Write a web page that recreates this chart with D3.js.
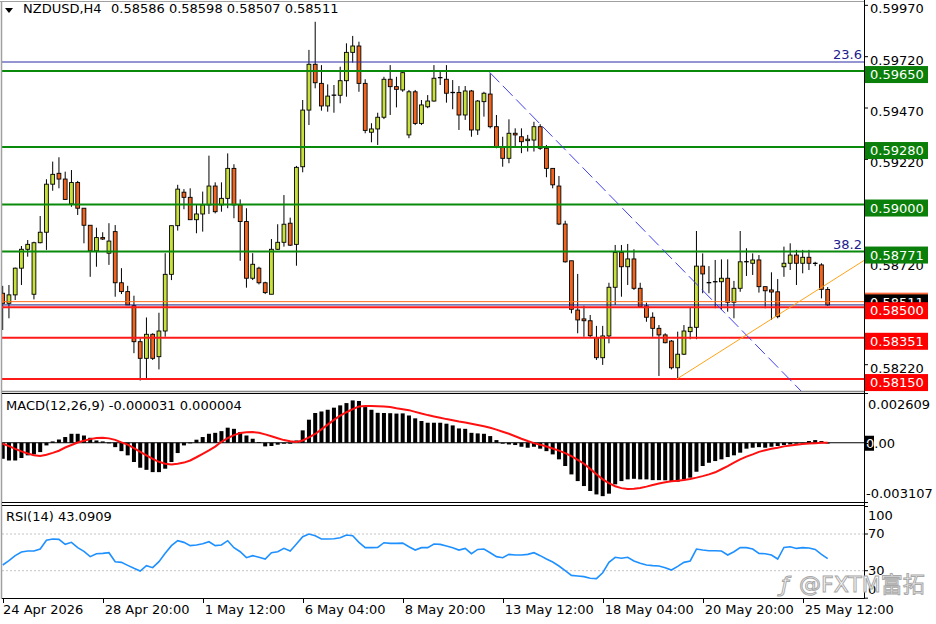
<!DOCTYPE html>
<html><head><meta charset="utf-8">
<script src="https://cdn.jsdelivr.net/npm/d3@7"></script>
<style>
body{margin:0;background:#fff}
svg{display:block}
text{font-family:"DejaVu Sans",sans-serif;font-size:13px}
</style>
</head><body>
<svg id="c" width="936" height="624"></svg>
<script>
// ---------------- DATA ----------------
const symbol = "NZDUSD,H4";
const open = [
0.58568,0.58519,0.58560,0.58690,0.58782,0.58563,0.58814,0.58865,0.59099,0.59152,
0.59124,0.59003,0.59107,0.58982,0.58899,0.58774,0.58839,0.58763,0.58868,0.58619,
0.58576,0.58507,0.58332,0.58251,0.58368,0.58259,0.58384,0.58660,0.58897,0.59060,
0.59035,0.58926,0.58954,0.58998,0.59090,0.58998,0.59030,0.59176,0.58998,0.58917,
0.58641,0.58690,0.58619,0.58563,0.58782,0.58816,0.58909,0.58806,0.59184,0.59460,
0.59683,0.59590,0.59480,0.59532,0.59532,0.59603,0.59741,0.59772,0.59590,0.59352,
0.59368,0.59425,0.59610,0.59574,0.59558,0.59339,0.59549,0.59395,0.59476,0.59504,
0.59618,0.59610,0.59546,0.59546,0.59436,0.59553,0.59363,0.59501,0.59538,0.59379,
0.59282,0.59225,0.59347,0.59330,0.59311,0.59314,0.59379,0.59274,0.59176,0.59090,
0.58905,0.58726,0.58486,0.58443,0.58434,0.58351,0.58254,0.58360,0.58597,0.58767,
0.58697,0.58735,0.58592,0.58506,0.58451,0.58397,0.58365,0.58335,0.58205,0.58271,
0.58381,0.58402,0.58700,0.58619,0.58624,0.58624,0.58641,0.58524,0.58592,0.58721,
0.58714,0.58730,0.58600,0.58584,0.58575,0.58697,0.58714,0.58754,0.58714,0.58743,
0.58714,0.58706,0.58586];
const high = [
0.58604,0.58608,0.58693,0.58798,0.58827,0.58819,0.58944,0.59123,0.59209,0.59230,
0.59160,0.59168,0.59115,0.58982,0.58899,0.58887,0.58865,0.58909,0.58900,0.58690,
0.58604,0.58556,0.58348,0.58450,0.58373,0.58473,0.58763,0.58897,0.59096,0.59075,
0.59079,0.58998,0.59063,0.59238,0.59108,0.59108,0.59249,0.59196,0.59025,0.58982,
0.58763,0.58697,0.58624,0.58832,0.58904,0.59046,0.58936,0.59188,0.59509,0.59753,
0.59890,0.59679,0.59585,0.59582,0.59671,0.59785,0.59821,0.59793,0.59610,0.59396,
0.59447,0.59622,0.59679,0.59622,0.59647,0.59558,0.59558,0.59509,0.59533,0.59679,
0.59647,0.59679,0.59606,0.59577,0.59577,0.59558,0.59509,0.59549,0.59639,0.59436,
0.59330,0.59415,0.59371,0.59371,0.59339,0.59403,0.59391,0.59290,0.59176,0.59139,
0.58921,0.58726,0.58662,0.58507,0.58462,0.58409,0.58409,0.58619,0.58803,0.58803,
0.58808,0.58782,0.58619,0.58522,0.58475,0.58413,0.58373,0.58340,0.58381,0.58413,
0.58499,0.58871,0.58762,0.58700,0.58730,0.58733,0.58733,0.58628,0.58871,0.58787,
0.58762,0.58754,0.58600,0.58670,0.58637,0.58795,0.58811,0.58779,0.58779,0.58779,
0.58721,0.58714,0.58598];
const low = [
0.58389,0.58446,0.58535,0.58608,0.58746,0.58538,0.58811,0.58779,0.59067,0.59079,
0.59022,0.58989,0.58949,0.58811,0.58648,0.58697,0.58827,0.58706,0.58551,0.58564,
0.58511,0.58276,0.58143,0.58151,0.58243,0.58197,0.58356,0.58632,0.58873,0.58977,
0.58926,0.58860,0.58868,0.58954,0.58957,0.58965,0.58982,0.58933,0.58726,0.58595,
0.58632,0.58611,0.58564,0.58563,0.58779,0.58795,0.58798,0.58702,0.59157,0.59387,
0.59566,0.59457,0.59452,0.59447,0.59493,0.59525,0.59691,0.59549,0.59347,0.59303,
0.59290,0.59416,0.59436,0.59473,0.59549,0.59323,0.59387,0.59387,0.59469,0.59501,
0.59582,0.59496,0.59464,0.59363,0.59412,0.59330,0.59339,0.59428,0.59371,0.59274,
0.59184,0.59201,0.59282,0.59250,0.59258,0.59258,0.59266,0.59133,0.59079,0.58900,
0.58717,0.58470,0.58373,0.58356,0.58353,0.58243,0.58219,0.58324,0.58511,0.58551,
0.58608,0.58584,0.58500,0.58429,0.58356,0.58165,0.58324,0.58197,0.58149,0.58267,
0.58344,0.58344,0.58568,0.58568,0.58495,0.58486,0.58478,0.58446,0.58575,0.58652,
0.58657,0.58571,0.58495,0.58438,0.58446,0.58648,0.58681,0.58608,0.58665,0.58681,
0.58700,0.58543,0.58507];
const close = [
0.58519,0.58560,0.58690,0.58782,0.58806,0.58814,0.58865,0.59099,0.59147,0.59124,
0.59025,0.59107,0.58982,0.58899,0.58774,0.58839,0.58832,0.58822,0.58619,0.58576,
0.58511,0.58332,0.58251,0.58368,0.58251,0.58384,0.58660,0.58897,0.59075,0.59035,
0.58926,0.58954,0.58998,0.59090,0.58965,0.59030,0.59176,0.58998,0.58917,0.58641,
0.58709,0.58619,0.58571,0.58782,0.58816,0.58904,0.58802,0.59181,0.59460,0.59683,
0.59593,0.59480,0.59528,0.59533,0.59603,0.59741,0.59772,0.59590,0.59361,0.59368,
0.59425,0.59610,0.59574,0.59561,0.59642,0.59549,0.59395,0.59485,0.59504,0.59615,
0.59618,0.59542,0.59545,0.59436,0.59553,0.59363,0.59504,0.59542,0.59379,0.59282,
0.59225,0.59347,0.59339,0.59306,0.59318,0.59379,0.59274,0.59176,0.59096,0.58905,
0.58721,0.58490,0.58438,0.58434,0.58361,0.58254,0.58360,0.58597,0.58767,0.58697,
0.58735,0.58592,0.58503,0.58451,0.58397,0.58365,0.58327,0.58205,0.58271,0.58384,
0.58402,0.58700,0.58662,0.58620,0.58624,0.58641,0.58524,0.58592,0.58721,0.58722,
0.58730,0.58600,0.58580,0.58574,0.58454,0.58714,0.58754,0.58714,0.58743,0.58714,
0.58713,0.58587,0.58511];
const macd = [
-0.00084,-0.00093,-0.00093,-0.00080,-0.00066,-0.00061,-0.00049,-0.00014,0.00007,0.00017,
0.00030,0.00047,0.00047,0.00038,0.00026,0.00012,0.00007,0.00001,-0.00023,-0.00044,
-0.00066,-0.00101,-0.00131,-0.00142,-0.00154,-0.00154,-0.00136,-0.00101,-0.00054,-0.00014,
0.00001,0.00016,0.00030,0.00047,0.00052,0.00061,0.00079,0.00073,0.00056,0.00038,
0.00021,0.00004,-0.00019,-0.00017,-0.00010,-0.00005,-0.00005,0.00012,0.00065,0.00121,
0.00156,0.00164,0.00173,0.00184,0.00196,0.00208,0.00222,0.00219,0.00187,0.00173,
0.00157,0.00156,0.00155,0.00153,0.00154,0.00143,0.00128,0.00114,0.00105,0.00105,
0.00105,0.00100,0.00091,0.00075,0.00073,0.00052,0.00049,0.00047,0.00035,0.00014,
-0.00005,-0.00009,-0.00012,-0.00021,-0.00026,-0.00021,-0.00031,-0.00044,-0.00061,-0.00087,
-0.00122,-0.00166,-0.00201,-0.00227,-0.00253,-0.00271,-0.00280,-0.00267,-0.00218,-0.00201,
-0.00192,-0.00189,-0.00192,-0.00192,-0.00196,-0.00196,-0.00197,-0.00204,-0.00204,-0.00192,
-0.00183,-0.00152,-0.00122,-0.00105,-0.00096,-0.00087,-0.00075,-0.00066,-0.00052,-0.00031,
-0.00026,-0.00023,-0.00026,-0.00021,-0.00017,-0.00012,-0.00009,-0.00005,0.00000,0.00009,
0.00014,0.00009,-0.000031];
const signal = [
-0.00005,-0.00018,-0.00032,-0.00045,-0.00056,-0.00065,-0.00070,-0.00063,-0.00053,-0.00042,
-0.00025,-0.00012,0.00001,0.00011,0.00019,0.00025,0.00026,0.00023,0.00015,0.00002,
-0.00010,-0.00028,-0.00048,-0.00066,-0.00085,-0.00100,-0.00110,-0.00114,-0.00110,-0.00104,
-0.00093,-0.00076,-0.00058,-0.00040,-0.00020,0.00005,0.00024,0.00040,0.00051,0.00055,
0.00056,0.00052,0.00044,0.00034,0.00024,0.00014,0.00008,0.00004,0.00012,0.00028,
0.00046,0.00070,0.00095,0.00120,0.00142,0.00160,0.00176,0.00190,0.00193,0.00193,
0.00192,0.00190,0.00187,0.00181,0.00176,0.00171,0.00162,0.00153,0.00145,0.00138,
0.00131,0.00124,0.00118,0.00111,0.00106,0.00100,0.00093,0.00086,0.00079,0.00069,
0.00058,0.00047,0.00034,0.00021,0.00009,-0.00002,-0.00010,-0.00020,-0.00030,-0.00041,
-0.00054,-0.00070,-0.00090,-0.00110,-0.00137,-0.00165,-0.00192,-0.00212,-0.00228,-0.00238,
-0.00242,-0.00241,-0.00237,-0.00230,-0.00222,-0.00214,-0.00207,-0.00202,-0.00199,-0.00195,
-0.00190,-0.00183,-0.00175,-0.00166,-0.00155,-0.00139,-0.00122,-0.00104,-0.00087,-0.00073,
-0.00061,-0.00048,-0.00039,-0.00032,-0.00026,-0.00019,-0.00015,-0.00011,-0.00007,-0.00004,
-0.00002,0.00000,0.000004];
const rsi = [
36.2,40.9,46.4,50.4,51.4,51.4,53.6,63.1,64.5,64.2,
58.7,60.9,55.1,51.1,45.3,48.5,48.9,49.6,39.8,39.1,
35.8,32.6,29.6,35.5,33.3,39.8,48.9,57.3,62.7,60.9,
57.3,58.0,59.4,61.6,57.3,58.0,62.7,55.1,50.7,44.2,
46.4,44.6,42.7,49.6,50.7,54.4,51.4,59.1,67.1,70.0,
68.1,64.5,64.5,64.9,66.0,68.9,68.1,60.9,55.1,55.1,
55.4,60.5,59.8,59.8,60.1,56.1,52.5,55.1,55.1,59.1,
58.7,56.9,55.1,52.5,54.3,48.5,53.2,53.6,49.6,45.3,
44.2,47.8,47.1,47.1,47.8,49.6,46.4,42.7,39.4,35.1,
30.0,24.9,24.2,23.5,21.7,21.3,27.8,39.1,44.6,43.5,
44.6,40.6,38.0,36.2,35.5,35.1,33.3,30.7,34.7,39.1,
40.6,53.6,52.5,51.8,51.8,51.4,47.1,50.7,55.1,55.1,
53.6,48.9,48.5,47.1,42.7,55.4,56.1,54.3,55.1,54.7,
53.2,47.8,43.0909];

const timeTickBars = [0,16,32,48,64,80,96,112,128];
const timeTickLabels = ["24 Apr 2026","28 Apr 20:00","1 May 12:00","6 May 04:00","8 May 20:00","13 May 12:00","18 May 04:00","20 May 20:00","25 May 12:00"];
const priceTicks = [0.59970,0.59720,0.59470,0.59220,0.58970,0.58720,0.58470,0.58220];
const greenLevels = [0.59650,0.59280,0.59000,0.58771];
const redLevels = [0.58500,0.58351,0.58150];
const fibLabels = ["23.6","38.2","50.0"];
const fibPrices = [0.59694,0.58771,0.58025];
const bidPrice = 0.58511;
const askPrice = 0.58527;
const downTrendBars = [77.9,126.8];
const downTrendPrices = [0.59644,0.58121];
const upTrendBars = [107.8,135.6];
const upTrendPrices = [0.58149,0.58685];
const macdTickValues = [0.002609,0,-0.003107];
const macdTickLabels = ["0.002609","0.00","-0.003107"];
const rsiTickValues = [100,70,30,0];
const rsiLevelValues = [70,30];

// ---------------- LAYOUT ----------------
const AX = 864;
const bull = "#c8e03a", bear = "#f0641e";

const svg = d3.select("#c");
svg.append("rect").attr("width",936).attr("height",624).attr("fill","#fff");

const x = d3.scaleLinear().domain([0,132]).range([2.7,827.7]);
const y = d3.scaleLinear().domain([0.58087,0.59996]).range([392,0]);
const ym = d3.scaleLinear().domain([-0.003107,0.002609]).range([502,393]);
const yr = d3.scaleLinear().domain([0,100]).range([598.2,506.5]);
const idx = d3.range(open.length);
const f5 = d3.format(".5f");

const defs = svg.append("defs");
function clip(id,x0,y0,x1,y1){defs.append("clipPath").attr("id",id).append("rect").attr("x",x0).attr("y",y0).attr("width",x1-x0).attr("height",y1-y0);}
clip("cMain",2,2,AX,391);
clip("cMacd",2,394,AX,502);
clip("cRsi",2,506,AX,598);
clip("cAxMain",AX+1,0,936,392);

// ---------------- MAIN PANEL ----------------
const gm = svg.append("g").attr("clip-path","url(#cMain)");
const cg = gm.append("g");
idx.forEach(i=>{
  const xi = x(i);
  cg.append("line").attr("x1",xi).attr("x2",xi).attr("y1",y(high[i])).attr("y2",y(low[i]))
    .attr("stroke","#000").attr("stroke-width",1);
  const o=open[i], c=close[i];
  const top=y(Math.max(o,c)), bot=y(Math.min(o,c));
  if (bot-top < 1.2){
    cg.append("line").attr("x1",xi-2.3).attr("x2",xi+2.3).attr("y1",(top+bot)/2).attr("y2",(top+bot)/2)
      .attr("stroke","#000").attr("stroke-width",1.3);
  } else {
    cg.append("rect").attr("x",xi-1.9).attr("width",3.8).attr("y",top).attr("height",bot-top)
      .attr("fill", c>=o?bull:bear).attr("stroke","#000").attr("stroke-width",0.9);
  }
});
fibPrices.forEach((p,k)=>{
  gm.append("line").attr("x1",2).attr("x2",AX).attr("y1",y(p)).attr("y2",y(p))
    .attr("stroke","#2a2aa6").attr("stroke-width",1);
  gm.append("text").attr("x",AX-2).attr("y",y(p)-3).attr("text-anchor","end")
    .attr("fill","#20208c").text(fibLabels[k]);
});
greenLevels.forEach(p=>{
  gm.append("line").attr("x1",2).attr("x2",AX).attr("y1",y(p)).attr("y2",y(p))
    .attr("stroke","#0a8a0a").attr("stroke-width",2);
});
gm.append("line").attr("x1",2).attr("x2",AX).attr("y1",y(askPrice)).attr("y2",y(askPrice))
  .attr("stroke","#ff6a1a").attr("stroke-width",1);
gm.append("line").attr("x1",2).attr("x2",AX).attr("y1",y(bidPrice)).attr("y2",y(bidPrice))
  .attr("stroke","#1a1a80").attr("stroke-width",1);
redLevels.forEach(p=>{
  gm.append("line").attr("x1",2).attr("x2",AX).attr("y1",y(p)).attr("y2",y(p))
    .attr("stroke","#ff1a1a").attr("stroke-width",2);
});
function ray(bars, prices, extendBars){
  const s=(prices[1]-prices[0])/(bars[1]-bars[0]);
  return [[x(bars[0]),y(prices[0])],[x(bars[1]+extendBars),y(prices[1]+s*extendBars)]];
}
const dl = ray(downTrendBars,downTrendPrices,10);
gm.append("line").attr("x1",dl[0][0]).attr("y1",dl[0][1]).attr("x2",dl[1][0]).attr("y2",dl[1][1])
  .attr("stroke","#4040f0").attr("stroke-width",1).attr("stroke-dasharray","14,5");
const ul = ray(upTrendBars,upTrendPrices,10);
gm.append("line").attr("x1",ul[0][0]).attr("y1",ul[0][1]).attr("x2",ul[1][0]).attr("y2",ul[1][1])
  .attr("stroke","#ffa31a").attr("stroke-width",1);

// header
svg.append("path").attr("d","M5,8 L13,8 L9,13 Z").attr("fill","#000");
svg.append("text").attr("x",23).attr("y",13).text(symbol);
svg.append("text").attr("x",111).attr("y",13)
  .text([open[132],high[132],low[132],close[132]].map(f5).join(" "));

// ---------------- PRICE AXIS ----------------
const ga = svg.append("g").attr("clip-path","url(#cAxMain)");
const labelled = greenLevels.concat(redLevels);
priceTicks.forEach(p=>{
  ga.append("line").attr("x1",AX).attr("x2",AX+4).attr("y1",y(p)).attr("y2",y(p)).attr("stroke","#000");
  // ticks fully covered by a level label are hidden, as in the reference
  if (labelled.some(l=>Math.abs(y(l)-y(p))<8)) return;
  ga.append("text").attr("x",870).attr("y",Math.max(y(p)+8,13)).text(f5(p));
});
function priceLabel(p,bg,fg,top){
  const t = top===undefined ? y(p)-5 : top;
  ga.append("rect").attr("x",865).attr("y",t).attr("width",63).attr("height",17).attr("fill",bg);
  ga.append("text").attr("x",870).attr("y",t+13).attr("fill",fg).text(f5(p));
}
greenLevels.forEach(p=>priceLabel(p,"#0a800a","#fff"));
priceLabel(askPrice,"#ff6a3a","#fff",y(askPrice)-9);
priceLabel(bidPrice,"#000","#fff",y(bidPrice)-10.5);
redLevels.forEach(p=>priceLabel(p,"#ff0000","#fff"));

// ---------------- MACD PANEL ----------------
const gmc = svg.append("g").attr("clip-path","url(#cMacd)");
gmc.selectAll("rect.h").data(idx).join("rect").attr("class","h")
  .attr("x",i=>x(i)-2).attr("width",4)
  .attr("y",i=>Math.min(ym(macd[i]),ym(0))).attr("height",i=>Math.max(0.8,Math.abs(ym(macd[i])-ym(0))))
  .attr("fill","#000");
gmc.append("line").attr("x1",2).attr("x2",AX).attr("y1",ym(0)).attr("y2",ym(0)).attr("stroke","#000").attr("stroke-width",1.2);
gmc.append("path").datum(idx).attr("fill","none").attr("stroke","#ff1010").attr("stroke-width",2)
  .attr("d",d3.line().x(i=>x(i)).y(i=>ym(signal[i])));
svg.append("text").attr("x",6).attr("y",410)
  .text("MACD(12,26,9) "+macd[132].toFixed(6)+" "+signal[132].toFixed(6));
svg.append("text").attr("x",868).attr("y",409).text(macdTickLabels[0]);
svg.append("rect").attr("x",865).attr("y",ym(0)-7).attr("width",9).attr("height",15).attr("fill","#000");
svg.append("text").attr("x",866).attr("y",ym(0)+5).attr("fill","#fff").text(macdTickLabels[1].slice(0,1));
svg.append("text").attr("x",874.3).attr("y",ym(0)+5).text(macdTickLabels[1].slice(1));
svg.append("text").attr("x",866).attr("y",498).text(macdTickLabels[2]);
macdTickValues.forEach(v=>{
  svg.append("line").attr("x1",AX).attr("x2",AX+4).attr("y1",Math.round(ym(v))+0.5).attr("y2",Math.round(ym(v))+0.5).attr("stroke","#000");
});

// ---------------- RSI PANEL ----------------
const gr = svg.append("g").attr("clip-path","url(#cRsi)");
rsiLevelValues.forEach(v=>{
  gr.append("line").attr("x1",2).attr("x2",AX).attr("y1",yr(v)).attr("y2",yr(v))
    .attr("stroke","#c4c4c4").attr("stroke-width",1).attr("stroke-dasharray","2,2");
});
gr.append("path").datum(idx).attr("fill","none").attr("stroke","#1e90ff").attr("stroke-width",1.6)
  .attr("d",d3.line().x(i=>x(i)).y(i=>yr(rsi[i])));
svg.append("text").attr("x",6).attr("y",521).text("RSI(14) "+rsi[132].toFixed(4));
const rsiLabelY = [519.5,538,575,594];
rsiTickValues.forEach((v,k)=>{
  svg.append("text").attr("x",868).attr("y",rsiLabelY[k]).text(String(v));
  svg.append("line").attr("x1",AX).attr("x2",AX+4).attr("y1",yr(v)).attr("y2",yr(v)).attr("stroke","#000");
});

// ---------------- FRAMES ----------------
const fr = svg.append("g");
fr.append("line").attr("x1",0).attr("x2",AX).attr("y1",1.5).attr("y2",1.5).attr("stroke","#a0a0a0");
fr.append("line").attr("x1",1.5).attr("x2",1.5).attr("y1",1).attr("y2",599).attr("stroke","#a0a0a0").attr("stroke-width",1.5);
fr.append("line").attr("x1",2).attr("x2",AX).attr("y1",391.5).attr("y2",391.5).attr("stroke","#8a8a8a").attr("stroke-width",1.5);
fr.append("line").attr("x1",2).attr("x2",AX).attr("y1",393.5).attr("y2",393.5).attr("stroke","#000");
fr.append("line").attr("x1",2).attr("x2",AX).attr("y1",502.5).attr("y2",502.5).attr("stroke","#000");
fr.append("line").attr("x1",2).attr("x2",AX).attr("y1",505.5).attr("y2",505.5).attr("stroke","#000");
fr.append("line").attr("x1",2).attr("x2",AX).attr("y1",598.5).attr("y2",598.5).attr("stroke","#000");
fr.append("line").attr("x1",AX+0.5).attr("x2",AX+0.5).attr("y1",0).attr("y2",599).attr("stroke","#000");

// ---------------- TIME AXIS ----------------
timeTickBars.forEach((b,k)=>{
  const xt = Math.round(x(b))+0.5;
  svg.append("line").attr("x1",xt).attr("x2",xt).attr("y1",599).attr("y2",603).attr("stroke","#000");
  svg.append("text").attr("x",k===0?3:x(b)+2).attr("y",614).text(timeTickLabels[k]);
});

// ---------------- WATERMARK ----------------
const wm = svg.append("g").attr("fill","#fff").attr("stroke","#a8a8a8").attr("stroke-width",1);
wm.append("text").attr("x",781).attr("y",592).style("font-size","22px").style("font-style","italic").text("ƒ");
wm.append("text").attr("x",799).attr("y",592).style("font-size","22px")
  .style("font-family","'DejaVu Sans','Noto Sans CJK SC',sans-serif").text("@FXTM富拓");
</script>
</body></html>
